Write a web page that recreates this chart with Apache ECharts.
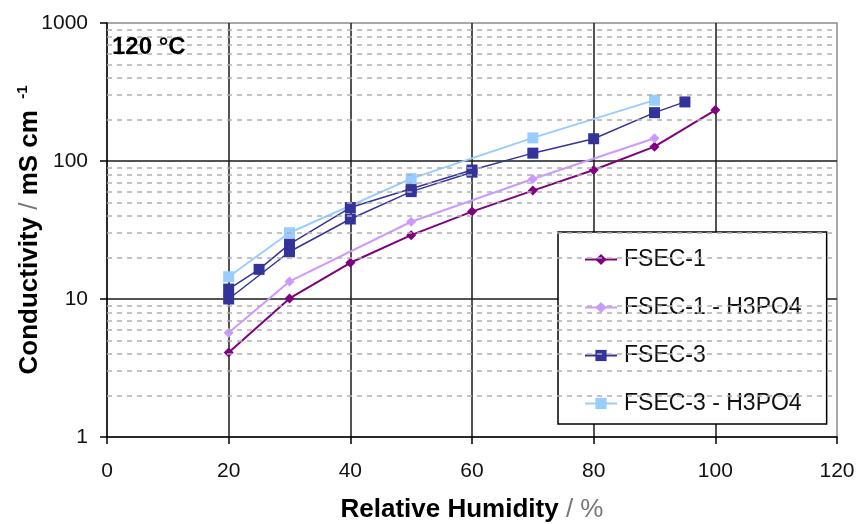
<!DOCTYPE html>
<html>
<head>
<meta charset="utf-8">
<script src="https://cdn.jsdelivr.net/npm/echarts@6/dist/echarts.min.js"></script>
<style>
  html, body { margin: 0; padding: 0; background: #fff; }
  #chart { width: 858px; height: 524px; }
</style>
</head>
<body>
<div id="chart"></div>
<script>
// Relative humidity (%) at which each membrane was measured
const rhFsec1 = [20, 30, 40, 50, 60, 70, 80, 90, 100];
const rhAcid = [20, 30, 50, 70, 90];
const rhFsec3A = [20, 25, 30, 40, 50, 60, 70, 80, 90, 95];
const rhFsec3B = [20, 30, 40, 50, 60];

// Conductivity at 120 °C (mS/cm)
const fsec1 = [4.1, 10.1, 18.3, 29, 43, 61, 86, 127, 234];
const fsec1Acid = [5.7, 13.4, 36.3, 74, 146];
const fsec3A = [11.8, 16.4, 25, 46, 63, 86, 114, 145, 224, 268];
const fsec3B = [10, 22, 38, 60, 83];
const fsec3Acid = [14.5, 30.2, 74.5, 147, 276];

// Axis ticks
const xTicks = [0, 20, 40, 60, 80, 100, 120];
const yDecades = [1, 10, 100, 1000];
const yMinor = [];
for (let d = 0; d < yDecades.length - 1; d++) {
  for (let k = 2; k <= 9; k++) yMinor.push(k * yDecades[d]);
}

const FONT = '"Liberation Sans", Arial, sans-serif';
const pairs = (xs, ys) => xs.map((x, i) => [x, ys[i]]);

const chart = echarts.init(document.getElementById('chart'), null, { renderer: 'canvas' });

function lineSeries(name, xs, ys, color, symbol, size, width) {
  return {
    name: name,
    type: 'line',
    data: pairs(xs, ys),
    symbol: symbol,
    symbolSize: size,
    itemStyle: { color: color },
    lineStyle: { color: color, width: width },
    z: 3
  };
}

chart.setOption({
  animation: false,
  backgroundColor: '#fff',
  textStyle: { fontFamily: FONT },
  title: {
    text: '120 °C',
    left: 112,
    top: 35,
    padding: 0,
    textStyle: { fontFamily: FONT, fontSize: 24, fontWeight: 'bold', color: '#000' }
  },
  grid: {
    left: 107, top: 23, width: 730, height: 414,
    outerBoundsMode: 'none',
    containLabel: false,
    show: true, backgroundColor: '#fff',
    borderColor: '#8c8c8c', borderWidth: 1.5
  },
  legend: {
    orient: 'vertical',
    left: 558,
    top: 232,
    padding: [16, 25, 9, 26],
    itemGap: 25,
    itemWidth: 32,
    itemHeight: 14,
    backgroundColor: '#fff',
    borderColor: '#000',
    borderWidth: 1.5,
    borderRadius: 0,
    data: ['FSEC-1', 'FSEC-1 - H3PO4', 'FSEC-3', 'FSEC-3 - H3PO4'],
    textStyle: { fontFamily: FONT, fontSize: 23, color: '#111', padding: [0, 0, 0, 2] }
  },
  xAxis: {
    type: 'value',
    min: xTicks[0],
    max: xTicks[xTicks.length - 1],
    interval: 20,
    name: 'Relative Humidity {sl|/ %}',
    nameLocation: 'middle',
    nameGap: 60,
    nameMoveOverlap: false,
    nameTextStyle: {
      fontFamily: FONT, fontSize: 26, fontWeight: 'bold', color: '#000',
      rich: { sl: { fontFamily: FONT, fontSize: 26, fontWeight: 'normal', color: '#777' } }
    },
    axisLine: { show: true, onZero: false, lineStyle: { color: '#000', width: 1.5 } },
    axisTick: { show: true, inside: false, length: 7, lineStyle: { color: '#000', width: 1.5 } },
    axisLabel: { fontFamily: FONT, fontSize: 21, color: '#111', margin: 24 },
    splitLine: { show: true, showMinLine: false, showMaxLine: false, lineStyle: { color: '#1a1a1a', width: 1.5 } }
  },
  yAxis: {
    type: 'log',
    logBase: 10,
    min: yDecades[0],
    max: yDecades[yDecades.length - 1],
    name: 'Conductivity {sl|/} mS cm {sup|-1}',
    nameLocation: 'middle',
    nameGap: 62,
    nameMoveOverlap: false,
    nameTextStyle: {
      fontFamily: FONT, fontSize: 26, fontWeight: 'bold', color: '#000',
      rich: {
        sl: { fontFamily: FONT, fontSize: 26, fontWeight: 'normal', color: '#777' },
        sup: { fontFamily: FONT, fontSize: 15, fontWeight: 'bold', color: '#000', padding: [0, 0, 15, 4] }
      }
    },
    axisLine: { show: true, lineStyle: { color: '#000', width: 1.5 } },
    axisTick: { show: true, inside: false, length: 7, lineStyle: { color: '#000', width: 1.5 } },
    axisLabel: {
      fontFamily: FONT, fontSize: 21, color: '#111', margin: 19,
      formatter: v => String(Math.round(v))
    },
    minorTick: { show: false },
    splitLine: { show: true, showMinLine: false, showMaxLine: false, lineStyle: { color: '#1a1a1a', width: 1.5 } }
  },
  series: [
    {
      // dashed minor gridlines at 2..9 of every decade
      name: 'minor-grid',
      type: 'line',
      data: [],
      silent: true,
      z: 1,
      markLine: {
        silent: true,
        symbol: ['none', 'none'],
        label: { show: false },
        animation: false,
        lineStyle: { color: '#b0b0b0', width: 1.5, type: [5, 5] },
        data: yMinor.map(v => ({ yAxis: v }))
      }
    },
    lineSeries('FSEC-1', rhFsec1, fsec1, '#800080', 'diamond', 10, 2),
    lineSeries('FSEC-1 - H3PO4', rhAcid, fsec1Acid, '#cc99ff', 'diamond', 10, 2),
    lineSeries('FSEC-3', rhFsec3B, fsec3B, '#333399', 'rect', 11, 1.5),
    lineSeries('FSEC-3', rhFsec3A, fsec3A, '#333399', 'rect', 11, 1.5),
    lineSeries('FSEC-3 - H3PO4', rhAcid, fsec3Acid, '#99ccff', 'rect', 11, 2)
  ]
});
</script>
</body>
</html>
